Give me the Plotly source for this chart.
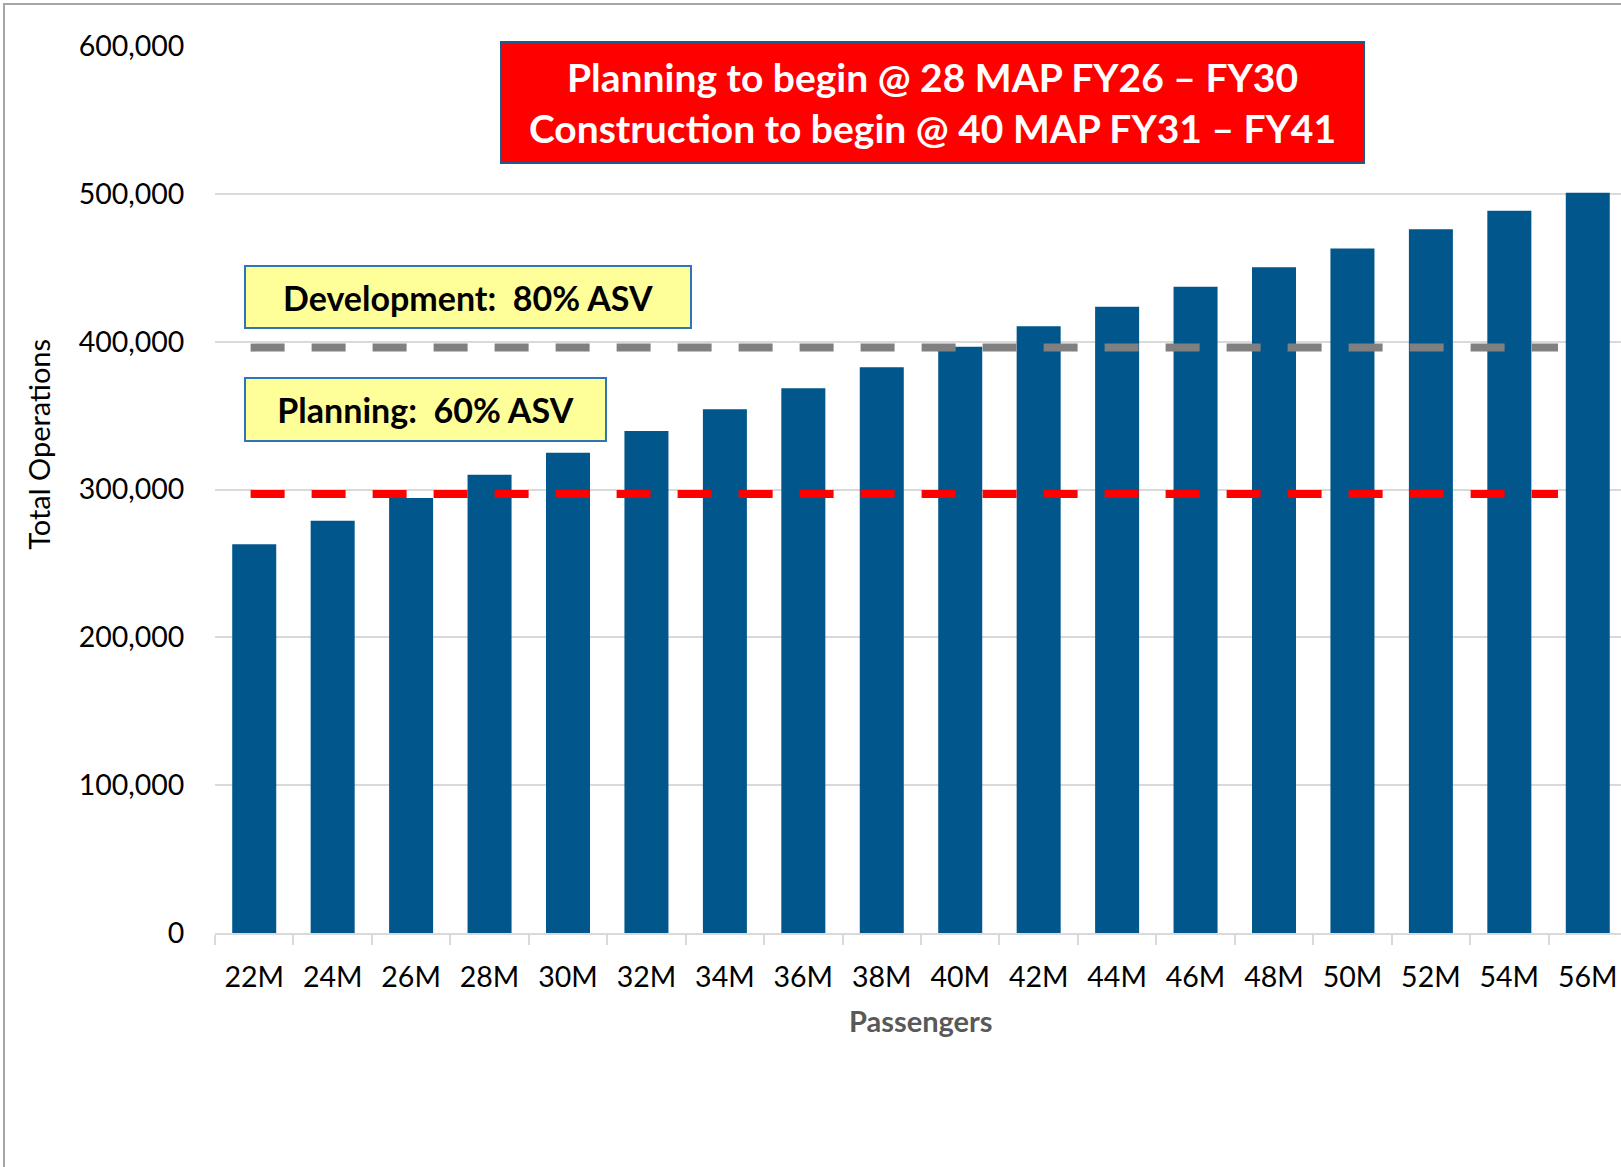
import plotly.graph_objects as go

# ---------------- data ----------------
categories = ["22M", "24M", "26M", "28M", "30M", "32M", "34M", "36M", "38M",
              "40M", "42M", "44M", "46M", "48M", "50M", "52M", "54M", "56M"]
total_operations = [263000, 278800, 294300, 309900, 324800, 339600, 354300, 368500, 382700,
                    396600, 410400, 423700, 437200, 450300, 463100, 476000, 488600, 500700]
development_threshold = 396000   # 80% ASV
planning_threshold = 297000      # 60% ASV
y_tick_values = [0, 100000, 200000, 300000, 400000, 500000, 600000]

title_lines = ["Planning to begin @ 28 MAP FY26 \u2013 FY30",
               "Construction to begin @ 40 MAP FY31 \u2013 FY41"]
dev_label = "Development:  80% ASV"
plan_label = "Planning:  60% ASV"
x_title = "Passengers"
y_title = "Total Operations"

# ---------------- styles ----------------
FONT = "Lato, Carlito, Calibri, sans-serif"
BAR_COLOR = "#01568B"
GRID = "#D9D9D9"
W, H = 1621, 1167
L, R, T, B = 215, 0, 46, 233.7
PW = W - L - R
PH = H - T - B


def px_to_paper_x(px):
    return (px - L) / PW


def px_to_paper_y(py):
    return 1 - (py - T) / PH


fig = go.Figure()
fig.add_trace(go.Bar(
    x=categories, y=total_operations,
    marker=dict(color=BAR_COLOR, line=dict(width=0)),
    hoverinfo="x+y",
))

shapes = [
    dict(type="line", xref="x", yref="y", x0=-0.046, x1=16.62,
         y0=development_threshold, y1=development_threshold,
         line=dict(color="#808080", width=8, dash="34px,27px"), layer="above"),
    dict(type="line", xref="x", yref="y", x0=-0.046, x1=16.62,
         y0=planning_threshold, y1=planning_threshold,
         line=dict(color="#FF0000", width=8, dash="34px,27px"), layer="above"),
    # outer frame
    dict(type="rect", xref="paper", yref="paper",
         x0=px_to_paper_x(4), x1=1.2, y0=px_to_paper_y(4), y1=-0.5,
         line=dict(color="#A6A6A6", width=2), fillcolor="rgba(0,0,0,0)", layer="below"),
]

annotations = [
    dict(xref="paper", yref="paper",
         x=px_to_paper_x((500 + 1365.5) / 2), y=px_to_paper_y((41 + 164) / 2),
         xanchor="center", yanchor="middle", showarrow=False,
         text="<br>".join(title_lines), align="center",
         font=dict(family=FONT, size=39, color="white", weight="bold"),
         bgcolor="#FF0000", bordercolor="#1F5A8C", borderwidth=2, borderpad=0,
         width=861, height=119),
    dict(xref="paper", yref="paper",
         x=px_to_paper_x((244 + 692.3) / 2), y=px_to_paper_y((265 + 329.3) / 2),
         xanchor="center", yanchor="middle", showarrow=False,
         text=dev_label, align="center",
         font=dict(family=FONT, size=34, color="black", weight="bold"),
         bgcolor="#FFFF99", bordercolor="#2E75B6", borderwidth=2, borderpad=0,
         width=444, height=60),
    dict(xref="paper", yref="paper",
         x=px_to_paper_x((244 + 606.7) / 2), y=px_to_paper_y((377.3 + 442.3) / 2),
         xanchor="center", yanchor="middle", showarrow=False,
         text=plan_label, align="center",
         font=dict(family=FONT, size=34, color="black", weight="bold"),
         bgcolor="#FFFF99", bordercolor="#2E75B6", borderwidth=2, borderpad=0,
         width=359, height=61),
    dict(xref="paper", yref="paper",
         x=px_to_paper_x(921), y=px_to_paper_y(1021),
         xanchor="center", yanchor="middle", showarrow=False,
         text=f"<b>{x_title}</b>",
         font=dict(family=FONT, size=29, color="#595959")),
    dict(xref="paper", yref="paper",
         x=px_to_paper_x(39), y=px_to_paper_y(445),
         xanchor="center", yanchor="middle", showarrow=False,
         text=y_title, textangle=-90,
         font=dict(family=FONT, size=29, color="black")),
]

fig.update_layout(
    width=W, height=H,
    margin=dict(l=L, r=R, t=T, b=B, pad=0),
    paper_bgcolor="white", plot_bgcolor="white",
    showlegend=False,
    bargap=0.439,
    font=dict(family=FONT, color="black"),
    shapes=shapes,
    annotations=annotations,
    xaxis=dict(
        type="category",
        range=[-0.5, 17.4235],
        showgrid=False,
        showline=True, linecolor=GRID, linewidth=2,
        ticks="outside", tickson="boundaries", ticklen=10, tickwidth=2, tickcolor=GRID,
        tickfont=dict(family=FONT, size=28.5, color="black"),
        ticklabelstandoff=18,
    ),
    yaxis=dict(
        range=[0, 600000],
        tickvals=y_tick_values,
        tickformat=",",
        showgrid=True, gridcolor=GRID, gridwidth=1.5,
        zeroline=False, showline=False,
        ticks="outside", ticklen=24, tickcolor="rgba(0,0,0,0)",
        tickfont=dict(family=FONT, size=28.5, color="black"),
    ),
)

fig.write_html("out.html",
               config={"displayModeBar": False},
               post_script="document.body.style.margin='0';document.body.style.overflow='hidden';")
